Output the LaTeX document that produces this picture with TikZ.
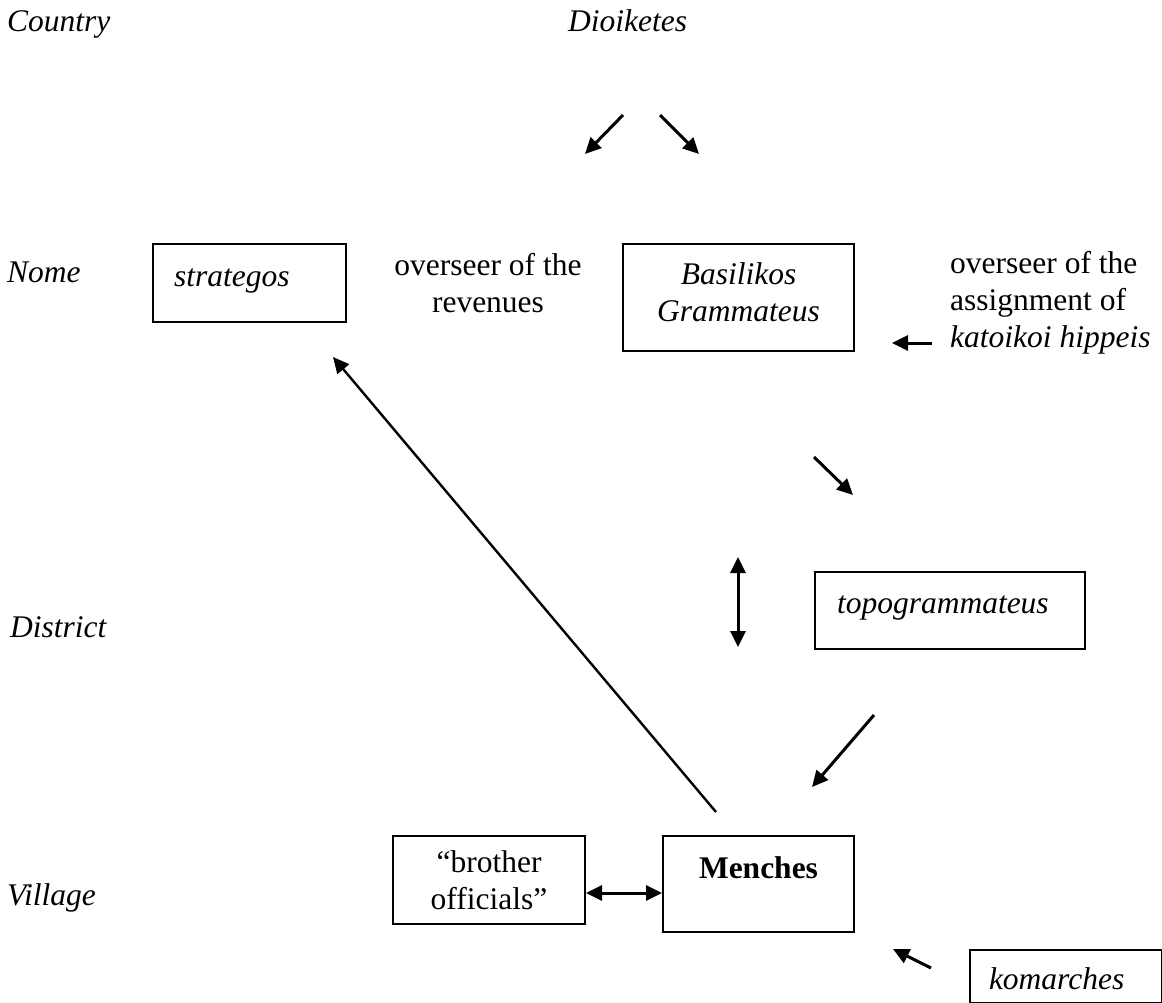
\documentclass[tikz,border=0pt]{standalone}
\usepackage{fontspec}
\setmainfont{Liberation Serif}
\usetikzlibrary{arrows.meta}

\begin{document}
\begin{tikzpicture}[
    x=1pt, y=-1pt, % one unit per pixel, y running down
    >={Triangle[length=16pt, width=15pt]}, % filled arrow tips
    font=\fontsize{31.5}{37}\selectfont, % body text size
    level/.style={anchor=base west, inner sep=0pt, font=\fontsize{31.5}{37}\selectfont\itshape}, % level names on the left
    note/.style={inner sep=0pt}, % free text without frame
    box/.style={draw, line width=2pt, inner sep=0pt, anchor=north west}, % framed office
    link/.style={->, line width=3pt}, % short arrows
    longlink/.style={->, line width=2.4pt}, % long arrow
    both/.style={<->, line width=3pt} % two-way arrows
  ]

  % --- Frame ---
  \useasboundingbox (0,0) rectangle (1162,1003);

  % --- Levels ---
  \node[level] (country) at (7,32) {Country};
  \node[level] (nome) at (7,282) {Nome};
  \node[level] (district) at (10,637) {District};
  \node[level] (village) at (7,905) {Village};

  % --- Country ---
  \node[level] (dioiketes) at (568,32) {Dioiketes};

  % --- Nome ---
  \node[box, inner xsep=21pt, text width=151pt, align=left, text height=42pt, text depth=36pt,
    font=\fontsize{31.5}{37}\selectfont\itshape] (strategos) at (152,243) {strategos};
  \node[note, anchor=north, align=center] (revenues) at (488,253) {overseer of the\\revenues};
  \node[box, text width=231pt, align=center, minimum height=107pt, text depth=48pt,
    font=\fontsize{31.5}{37}\selectfont\itshape] (basilikos) at (622,243) {Basilikos\\Grammateus};
  \node[note, anchor=north west, align=left] (hippeis) at (950,251) {overseer of the\\assignment of\\\textit{katoikoi hippeis}};

  % --- District ---
  \node[box, inner xsep=22pt, text width=226pt, align=left, text height=41pt, text depth=36pt,
    font=\fontsize{31.5}{37}\selectfont\itshape] (topo) at (814,571) {topogrammateus};

  % --- Village ---
  \node[box, text width=192pt, align=center, minimum height=88pt] (brother) at (392,835) {``brother\\officials''};
  \node[box, text width=191pt, align=center, text height=42pt, text depth=54pt] (menches) at (662,835) {\textbf{Menches}};
  \node[box, inner xsep=19pt, text width=154pt, align=left, text height=39pt, text depth=14pt,
    font=\fontsize{31.5}{37}\selectfont\itshape] (komarches) at (969,949) {komarches};

  % --- Arrow ends ---
  \coordinate (dioi_l_start) at (623,115);
  \coordinate (dioi_l_end) at (585,154);
  \coordinate (dioi_r_start) at (660,115);
  \coordinate (dioi_r_end) at (699,154);
  \coordinate (hipp_start) at (932,343);
  \coordinate (hipp_end) at (892,343);
  \coordinate (basil_start) at (814,457);
  \coordinate (basil_end) at (853,495);
  \coordinate (topo_top) at (738,557);
  \coordinate (topo_bot) at (738,647);
  \coordinate (topo_start) at (874,715);
  \coordinate (topo_end) at (812,787);
  \coordinate (menches_start) at (716,812);
  \coordinate (menches_end) at (333,357);
  \coordinate (koma_start) at (931,968);
  \coordinate (koma_end) at (893,949);
  \coordinate (pair_y) at (0,893);

  % --- Arrows ---
  \draw[link] (dioi_l_start) -- (dioi_l_end);
  \draw[link] (dioi_r_start) -- (dioi_r_end);
  \draw[link] (hipp_start) -- (hipp_end);
  \draw[link] (basil_start) -- (basil_end);
  \draw[both] (topo_top) -- (topo_bot);
  \draw[link] (topo_start) -- (topo_end);
  \draw[longlink] (menches_start) -- (menches_end);
  \draw[link] (koma_start) -- (koma_end);
  \draw[both] (brother.east |- pair_y) -- (menches.west |- pair_y);

\end{tikzpicture}
\end{document}
